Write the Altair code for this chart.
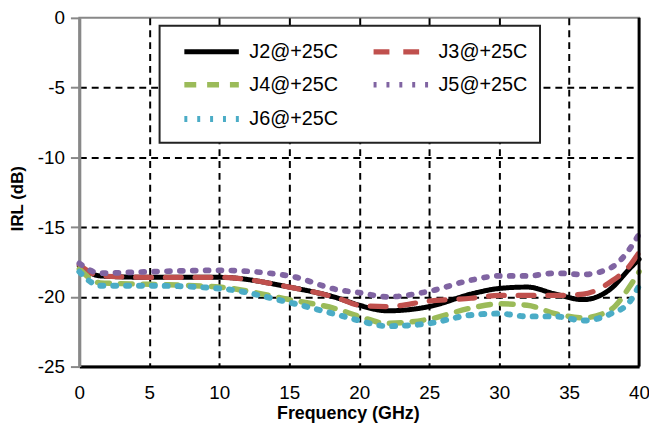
import altair as alt
import pandas as pd

freq = [0, 1.5, 5, 10, 15, 18.5, 20, 22, 25, 28, 30, 32, 34, 36, 38, 39.3, 40]
j2 = [-17.8, -18.5, -18.6, -18.6, -19.3, -20.1, -20.6, -21.0, -20.7, -19.8, -19.4, -19.3, -19.8, -20.2, -19.4, -18.0, -17.3]
j3 = [-17.7, -18.5, -18.6, -18.6, -19.3, -20.1, -20.6, -20.7, -20.3, -20.1, -19.9, -19.9, -19.9, -19.8, -18.9, -17.8, -16.8]
j4 = [-18.0, -19.0, -19.1, -19.3, -20.2, -20.9, -21.4, -21.9, -21.6, -20.8, -20.5, -20.6, -21.2, -21.5, -20.9, -19.3, -18.2]
j5 = [-17.6, -18.3, -18.2, -18.1, -18.5, -19.5, -19.7, -20.0, -19.6, -18.8, -18.5, -18.5, -18.3, -18.4, -17.9, -16.6, -15.5]
j6 = [-18.2, -19.2, -19.2, -19.4, -20.4, -21.3, -21.7, -22.1, -21.9, -21.3, -21.2, -21.4, -21.4, -21.7, -21.2, -20.4, -19.2]

series_names = ["J2@+25C", "J3@+25C", "J4@+25C", "J5@+25C", "J6@+25C"]
series_values = [j2, j3, j4, j5, j6]
colors = ["#000000", "#C0504D", "#9BBB59", "#8064A2", "#4BACC6"]
dashes = [[1, 0], [16, 14], [12, 11], [3, 10], [3, 10]]
widths = [5, 6, 5, 6, 6]

x_ticks = [0, 5, 10, 15, 20, 25, 30, 35, 40]
y_ticks = [0, -5, -10, -15, -20, -25]

rows = []
for name, vals in zip(series_names, series_values):
    for f, v in zip(freq, vals):
        rows.append({"freq": f, "irl": v, "series": name})
df = pd.DataFrame(rows)

FONT = "Liberation Sans"

legend = alt.Legend(
    title=None, orient="none", legendX=81, legendY=8, columns=2, direction="horizontal",
    fillColor="white", strokeColor="#222", padding=12,
    symbolType="M-2.5,0H2.5", symbolSize=484, symbolStrokeWidth=4, symbolOffset=26.5,
    labelFont=FONT, labelFontSize=20, labelColor="black", labelOffset=24,
    columnPadding=22, rowPadding=8.5, labelLimit=300,
)

xscale = alt.Scale(domain=[0, 40], nice=False, zero=False)
yscale = alt.Scale(domain=[-25, 0], nice=False, zero=False)

lines = alt.Chart(df).mark_line(strokeCap="round", interpolate="monotone").encode(
    x=alt.X("freq:Q", scale=xscale, axis=alt.Axis(
        values=x_ticks, title="Frequency (GHz)", ticks=False, labelPadding=17, labelFlush=False,
        domainColor="black", domainWidth=3,
        grid=True, gridColor="black", gridWidth=2, gridDash=[7, 5],
        gridOpacity={"condition": {"test": "datum.value === 0 || datum.value === 40", "value": 0}, "value": 1},
        titleX=271, titleY=47, titleBaseline="middle", titleFontSize=18,
    )),
    y=alt.Y("irl:Q", scale=yscale, axis=alt.Axis(
        values=y_ticks, title="IRL (dB)", tickSize=9, tickWidth=2, tickColor="#888",
        labelPadding=6, domainColor="#888", domainWidth=3, labelExpr="'' + datum.value",
        grid=True, gridColor="black", gridWidth=2, gridDash=[7, 5],
        gridOpacity={"condition": {"test": "datum.value === 0 || datum.value === -25", "value": 0}, "value": 1},
        titleX=-62, titleY=182, titleBaseline="middle", titleFontSize=17,
    )),
    color=alt.Color("series:N", scale=alt.Scale(domain=series_names, range=colors), legend=legend),
    strokeDash=alt.StrokeDash("series:N", scale=alt.Scale(domain=series_names, range=dashes), legend=legend),
    strokeWidth=alt.StrokeWidth("series:N", scale=alt.Scale(domain=series_names, range=widths), legend=None),
)

border = alt.Chart(pd.DataFrame({"freq": [40]})).mark_rule(color="black", strokeWidth=3).encode(
    x=alt.X("freq:Q", scale=xscale)
)

chart = alt.layer(lines, border).properties(
    width=565, height=352,
    autosize=alt.AutoSizeParams(type="none"),
    padding={"left": 72, "top": 8, "right": 10, "bottom": 57},
).configure_view(
    stroke="#888", strokeWidth=2
).configure_axis(
    labelFont=FONT, labelFontSize=19, labelColor="black",
    titleFont=FONT, titleFontWeight="bold", titleColor="black",
).configure_legend(
    strokeWidth=2
)

chart.save("out.html", embed_options={"renderer": "svg", "actions": False})
